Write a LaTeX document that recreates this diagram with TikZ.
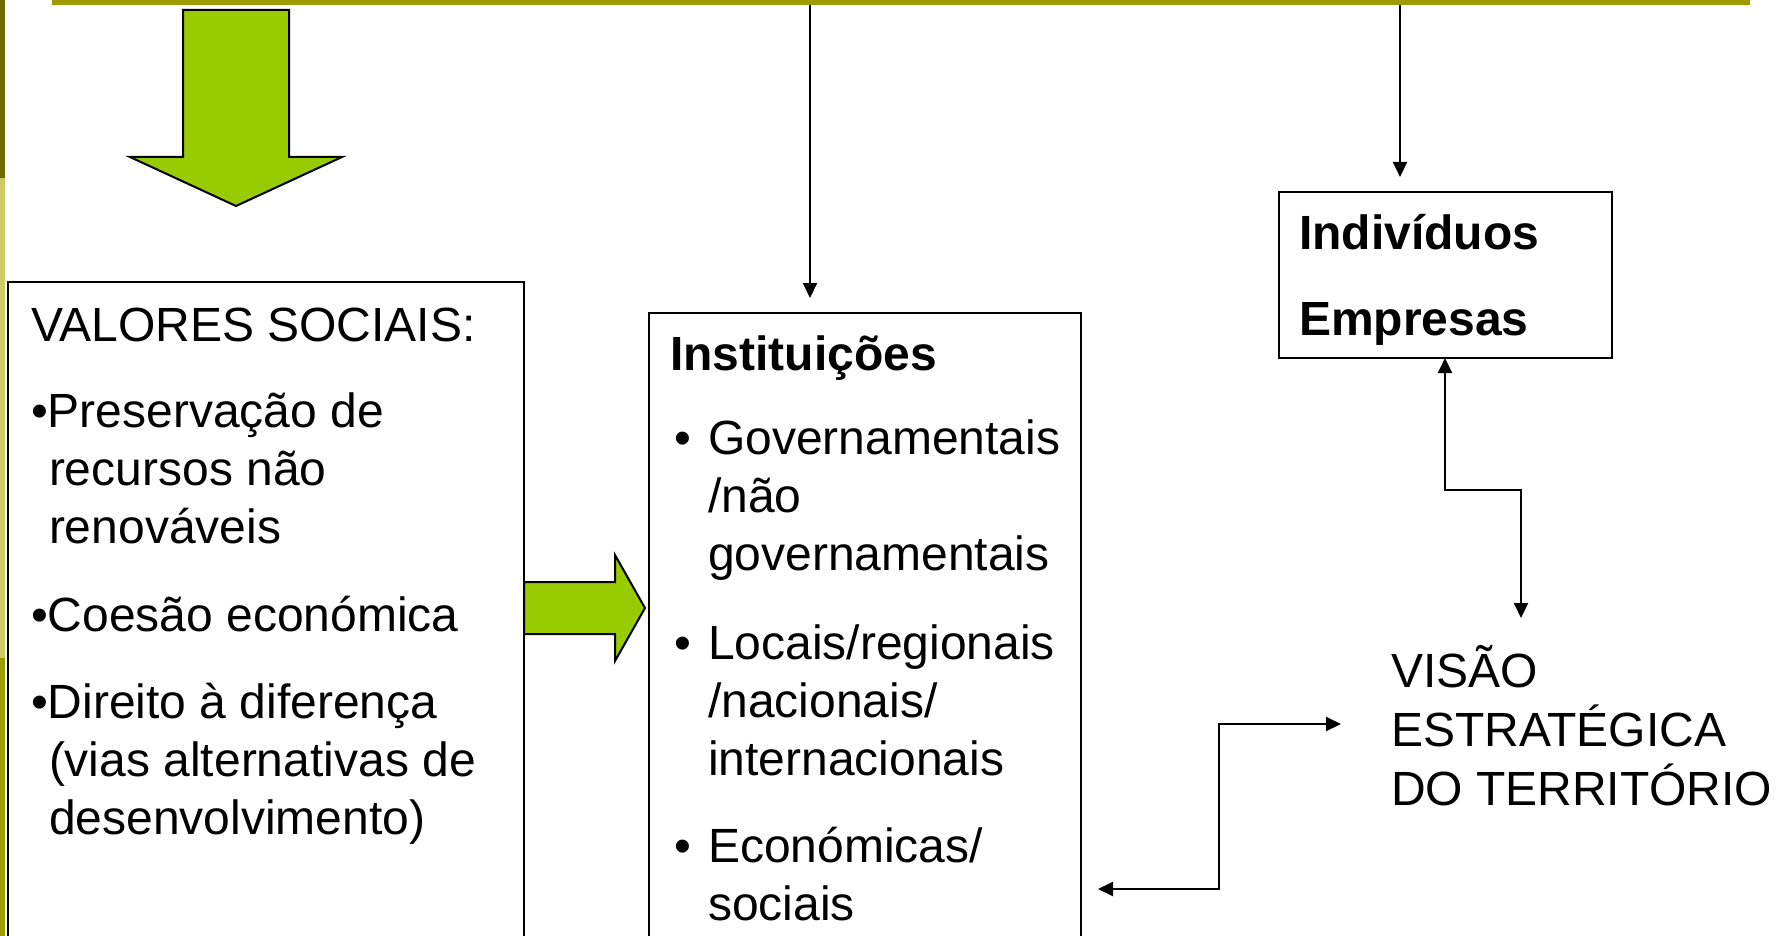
\documentclass[tikz,border=0pt]{standalone}
\usepackage{fontspec}
\setmainfont{Liberation Sans}
\usetikzlibrary{arrows.meta}
\definecolor{olivebar}{HTML}{9C9C00}
\definecolor{darkolive}{HTML}{6B6B00}
\definecolor{lightolive}{HTML}{CCCC66}
\definecolor{limegreen}{HTML}{99CC00}
\begin{document}
\begin{tikzpicture}[x=1pt,y=-1pt,
  font=\fontsize{48}{58}\selectfont,
  txt/.style={anchor=base west, inner sep=0pt, outer sep=0pt},
  box/.style={draw=black, line width=2pt, anchor=north west, inner sep=0pt, outer sep=0pt},
  conn/.style={draw=black, line width=2pt, arrows={-Triangle[length=15pt,width=14pt]}},
  dconn/.style={draw=black, line width=2pt, arrows={Triangle[length=15pt,width=14pt]-Triangle[length=15pt,width=14pt]}},
  blockarrow/.style={fill=limegreen, draw=black, line width=2pt, line join=miter}
]
\useasboundingbox (0,0) rectangle (1786,936);
\clip (0,0) rectangle (1786,936);
\fill[white] (0,0) rectangle (1786,936);

% left edge bars
\fill[darkolive] (0,0) rectangle (5,178);
\fill[lightolive] (0,178) rectangle (5,658);
\fill[olivebar] (0,658) rectangle (5,936);
% top line
\fill[olivebar] (52,0) rectangle (1750,5);

% green down arrow
\draw[blockarrow] (183,10) -- (289,10) -- (289,157) -- (342,157) -- (236,206) -- (130,157) -- (183,157) -- cycle;
% green right arrow
\draw[blockarrow] (524,582) -- (615,582) -- (615,555) -- (645,608) -- (615,661) -- (615,634) -- (524,634) -- cycle;

% boxes
\node[box, minimum width=516pt, minimum height=760pt] (valores) at (8,282) {};
\node[box, minimum width=432pt, minimum height=730pt] (inst) at (649,313) {};
\node[box, minimum width=333pt, minimum height=166pt] (ind) at (1279,192) {};

% left box text
\node[txt] (v0) at (31,341) {VALORES SOCIAIS:};
\node[txt] (v1) at (31,427) {•Preservação de};
\node[txt] (v2) at (49,485) {recursos não};
\node[txt] (v3) at (49,543) {renováveis};
\node[txt] (v4) at (31,631) {•Coesão económica};
\node[txt] (v5) at (31,718) {•Direito à diferença};
\node[txt] (v6) at (49,776) {(vias alternativas de};
\node[txt] (v7) at (49,834) {desenvolvimento)};

% middle box text
\node[txt, font=\fontsize{48}{58}\selectfont\bfseries] (i0) at (670,370) {Instituições};
\node[txt] (b1) at (674,454) {•};
\node[txt] (i1) at (708,454) {Governamentais};
\node[txt] (i2) at (708,512) {/não};
\node[txt] (i3) at (708,570) {governamentais};
\node[txt] (b2) at (674,659) {•};
\node[txt] (i4) at (708,659) {Locais/regionais};
\node[txt] (i5) at (708,717) {/nacionais/};
\node[txt] (i6) at (708,775) {internacionais};
\node[txt] (b3) at (674,862) {•};
\node[txt] (i7) at (708,862) {Económicas/};
\node[txt] (i8) at (708,920) {sociais};

% right box text
\node[txt, font=\fontsize{48}{58}\selectfont\bfseries] (ind1) at (1299,250) {Indivíduos};
\node[txt, font=\fontsize{48}{58}\selectfont\bfseries] (ind2) at (1299,335) {Empresas};

% vision text
\node[txt] (vis1) at (1391,687) {VISÃO};
\node[txt] (vis2) at (1391,746) {ESTRATÉGICA};
\node[txt] (vis3) at (1391,805) {DO TERRITÓRIO};

% connectors
\coordinate (topA) at (810,5);
\coordinate (tipA) at (810,298);
\coordinate (topB) at (1400,5);
\coordinate (tipB) at (1400,177);
\coordinate (c1) at (1445,490);
\coordinate (c2) at (1521,490);
\coordinate (c3) at (1521,618);
\coordinate (d0) at (1098,889);
\coordinate (d1) at (1219,889);
\coordinate (d2) at (1219,724);
\coordinate (d3) at (1341,724);

\draw[conn] (topA) -- (tipA);
\draw[conn] (topB) -- (tipB);
\draw[dconn] (ind.south -| c1) -- (c1) -- (c2) -- (c3);
\draw[dconn] (d0) -- (d1) -- (d2) -- (d3);
\end{tikzpicture}
\end{document}
